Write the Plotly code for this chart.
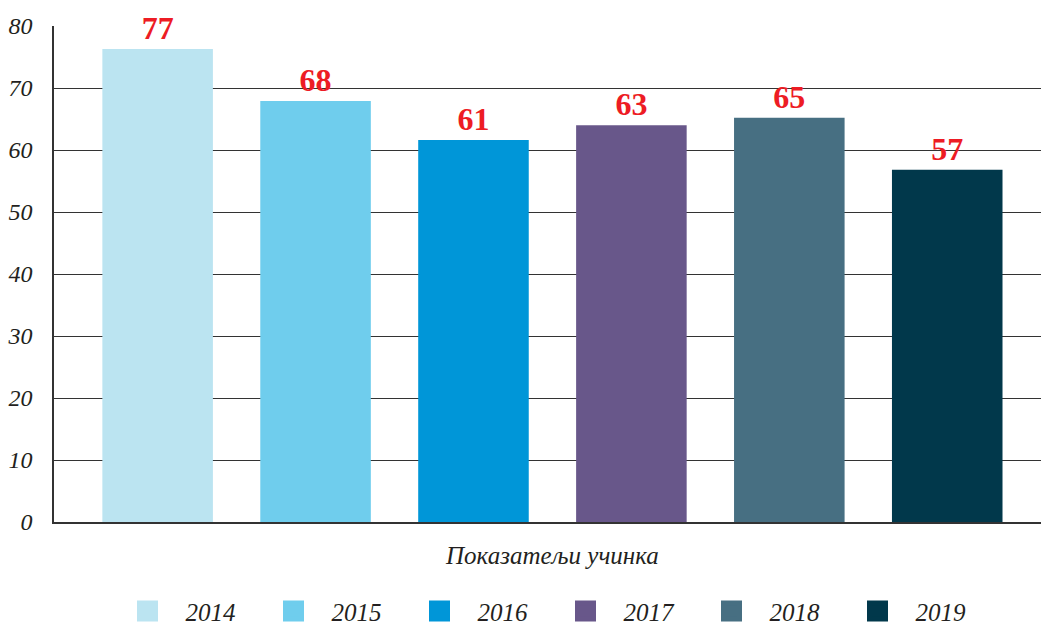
import plotly.graph_objects as go

years = ["2014", "2015", "2016", "2017", "2018", "2019"]
values = [76.3, 67.9, 61.6, 64.0, 65.2, 56.8]
value_labels = ["77", "68", "61", "63", "65", "57"]
colors = ["#BBE4F1", "#6FCDED", "#0096D8", "#68578A", "#476F82", "#01384B"]
category = ["Показатељи учинка"]
y_ticks = [0, 10, 20, 30, 40, 50, 60, 70, 80]

FONT = "Liberation Serif"

fig = go.Figure()
for yr, v, lab, c in zip(years, values, value_labels, colors):
    fig.add_trace(go.Bar(
        x=category, y=[v], name=yr, marker=dict(color=c, line=dict(width=0)),
        text=[lab], textposition="outside", cliponaxis=False,
        textfont=dict(family=FONT, size=32, color="#ED1C24", weight="bold"),
        constraintext="none", showlegend=False,
    ))
# legend entries (square swatches)
for yr, c in zip(years, colors):
    fig.add_trace(go.Scatter(
        x=[None], y=[None], mode="markers", name=yr,
        marker=dict(symbol="square", size=30, color=c, line=dict(color=c, width=6)),
        showlegend=True,
    ))

fig.update_layout(
    width=1041, height=628,
    margin=dict(l=54, r=0, t=26, b=106, autoexpand=False),
    paper_bgcolor="white", plot_bgcolor="white",
    barmode="group", bargap=0.04, bargroupgap=0.30,
    showlegend=True,
    legend=dict(orientation="h", x=0.5, xanchor="center", y=-0.18, yanchor="middle",
                font=dict(family=FONT, size=25, color="#231F20", style="italic"),
                entrywidth=65, itemwidth=66, itemsizing="trace", traceorder="normal"),
    font=dict(family=FONT),
)
fig.update_yaxes(range=[0, 80], tickvals=y_ticks, showgrid=True, gridcolor="#333333", gridwidth=1,
                 showline=True, linecolor="#333333", linewidth=1.5, zeroline=False,
                 ticks="", ticklabelstandoff=15, automargin=False,
                 tickfont=dict(family=FONT, size=24, color="#231F20", style="italic"))
fig.update_xaxes(range=[-0.505, 0.495], showline=True, linecolor="#333333", linewidth=1.5, ticks="",
                 ticklabelstandoff=10, automargin=False,
                 tickfont=dict(family=FONT, size=25, color="#231F20", style="italic"))

fig.write_html("out.html", post_script="document.body.style.margin='0';",
               config={"displayModeBar": False})
